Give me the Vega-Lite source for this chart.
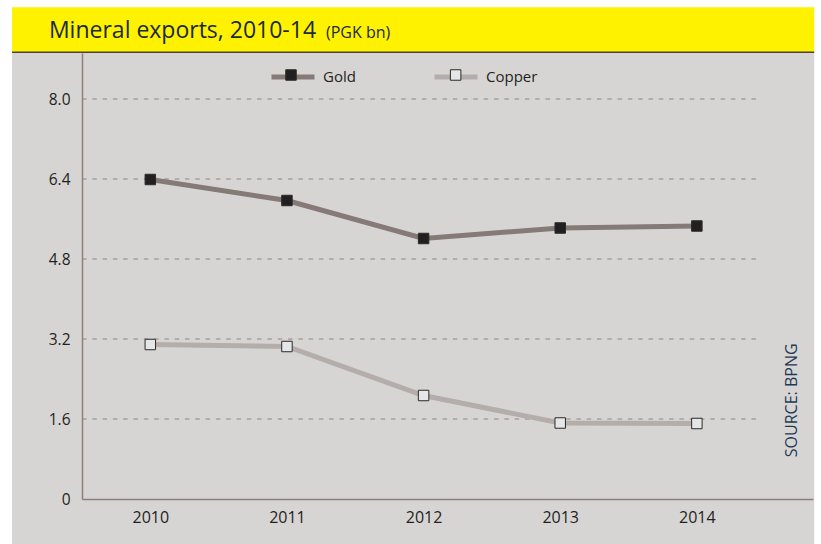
{
  "$schema": "https://vega.github.io/schema/vega-lite/v6.json",
  "width": 731,
  "height": 446,
  "autosize": {"type": "none"},
  "padding": {"left": 82, "top": 53, "right": 8, "bottom": 45},
  "background": "#ffffff",
  "config": {
    "view": {"stroke": null},
    "font": "Open Sans"
  },
  "datasets": {
    "exports": [
      {"year": 2010, "series": "Gold", "value": 6.39},
      {"year": 2011, "series": "Gold", "value": 5.97},
      {"year": 2012, "series": "Gold", "value": 5.21},
      {"year": 2013, "series": "Gold", "value": 5.42},
      {"year": 2014, "series": "Gold", "value": 5.46},
      {"year": 2010, "series": "Copper", "value": 3.09},
      {"year": 2011, "series": "Copper", "value": 3.05},
      {"year": 2012, "series": "Copper", "value": 2.07},
      {"year": 2013, "series": "Copper", "value": 1.52},
      {"year": 2014, "series": "Copper", "value": 1.51}
    ],
    "grid": [{"tick": 1.6}, {"tick": 3.2}, {"tick": 4.8}, {"tick": 6.4}, {"tick": 8.0}]
  },
  "layer": [
    {
      "data": {"values": [{}]},
      "mark": {"type": "rect", "color": "#d7d5d4", "clip": false},
      "encoding": {
        "x": {"datum": 2008.988, "type": "quantitative", "scale": {"domain": [2009.5, 2014.85], "nice": false, "zero": false}},
        "x2": {"datum": 2014.859},
        "y": {"datum": 8.92, "type": "quantitative", "scale": {"domain": [0, 8.92], "nice": false}},
        "y2": {"datum": -0.906}
      }
    },
    {
      "data": {"values": [{}]},
      "mark": {"type": "rect", "color": "#fff200", "clip": false},
      "encoding": {
        "x": {"datum": 2008.988, "type": "quantitative"},
        "x2": {"datum": 2014.859},
        "y": {"datum": 9.834, "type": "quantitative"},
        "y2": {"datum": 8.94}
      }
    },
    {
      "data": {"values": [{}]},
      "mark": {"type": "rule", "color": "#4d4238", "strokeWidth": 1.5, "clip": false},
      "encoding": {
        "x": {"datum": 2008.988, "type": "quantitative"},
        "x2": {"datum": 2014.859},
        "y": {"datum": 8.935, "type": "quantitative"}
      }
    },
    {
      "data": {"values": [{"t": "Mineral exports, 2010-14"}]},
      "mark": {"type": "text", "font": "Open Sans", "fontSize": 23, "color": "#1c2a38", "align": "left", "baseline": "alphabetic", "clip": false},
      "encoding": {
        "x": {"datum": 2009.258, "type": "quantitative"},
        "y": {"datum": 9.228, "type": "quantitative"},
        "text": {"field": "t"}
      }
    },
    {
      "data": {"values": [{"t": "(PGK bn)"}]},
      "mark": {"type": "text", "font": "Open Sans", "fontSize": 16, "color": "#1c2a38", "align": "left", "baseline": "alphabetic", "clip": false},
      "encoding": {
        "x": {"datum": 2011.286, "type": "quantitative"},
        "y": {"datum": 9.228, "type": "quantitative"},
        "text": {"field": "t"}
      }
    },
    {
      "data": {"name": "grid"},
      "mark": {"type": "rule", "color": "#8e8484", "strokeWidth": 1, "strokeDash": [4.5, 5.8]},
      "encoding": {
        "x": {"datum": 2009.5, "type": "quantitative"},
        "x2": {"datum": 2014.463},
        "y": {"field": "tick", "type": "quantitative"}
      }
    },
    {
      "data": {"name": "exports"},
      "mark": {"type": "line", "strokeWidth": 5},
      "encoding": {
        "x": {
          "field": "year", "type": "quantitative",
          "axis": {
            "values": [2010, 2011, 2012, 2013, 2014], "format": "d", "title": null, "zindex": 1,
            "grid": false, "ticks": false, "domainColor": "#8b807a", "domainWidth": 1.5,
            "labelFont": "Open Sans", "labelFontSize": 16, "labelColor": "#231f20", "labelPadding": 10
          }
        },
        "y": {
          "field": "value", "type": "quantitative",
          "axis": {
            "values": [0, 1.6, 3.2, 4.8, 6.4, 8.0], "title": null, "zindex": 1,
            "labelExpr": "datum.value == 0 ? '0' : format(datum.value, '.1f')",
            "grid": false, "ticks": false, "domainColor": "#8b807a", "domainWidth": 1.5,
            "labelFont": "Open Sans", "labelFontSize": 15.5, "labelColor": "#231f20", "labelPadding": 12
          }
        },
        "stroke": {
          "field": "series", "type": "nominal",
          "scale": {"domain": ["Gold", "Copper"], "range": ["#857a76", "#b5ada9"]},
          "legend": {
            "orient": "none", "legendX": 187, "legendY": 0, "direction": "horizontal", "title": null,
            "symbolType": "stroke", "symbolSize": 1849, "symbolStrokeWidth": 5,
            "labelFont": "Open Sans", "labelFontSize": 15, "labelColor": "#231f20", "labelOffset": 6,
            "columnPadding": 68, "zindex": 0
          }
        },
        "detail": {"field": "series"}
      }
    },
    {
      "data": {"name": "exports"},
      "mark": {"type": "point", "shape": "square", "size": 110, "filled": true, "stroke": "#2a2a2a", "strokeWidth": 1, "opacity": 1},
      "encoding": {
        "x": {"field": "year", "type": "quantitative"},
        "y": {"field": "value", "type": "quantitative"},
        "fill": {
          "field": "series", "type": "nominal", "sort": "descending",
          "scale": {"range": ["#231f20", "#e5e6e8"]},
          "legend": {
            "orient": "none", "legendX": 187, "legendY": 0, "direction": "horizontal", "title": null,
            "symbolType": "M-0.244,-0.244H0.244V0.244H-0.244Z", "symbolSize": 1849,
            "symbolStrokeColor": "#2a2a2a", "symbolStrokeWidth": 1, "symbolOpacity": 1,
            "labelFont": "Open Sans", "labelFontSize": 15, "labelExpr": "''", "labelOffset": 6,
            "columnPadding": 114.65, "zindex": 1
          }
        }
      }
    },
    {
      "data": {"values": [{"t": "SOURCE: BPNG"}]},
      "mark": {"type": "text", "font": "Open Sans", "fontSize": 16, "color": "#1f3a55", "angle": 270, "align": "center", "baseline": "middle", "clip": false},
      "encoding": {
        "x": {"datum": 2014.693, "type": "quantitative"},
        "y": {"datum": 1.974, "type": "quantitative"},
        "text": {"field": "t"}
      }
    }
  ]
}
